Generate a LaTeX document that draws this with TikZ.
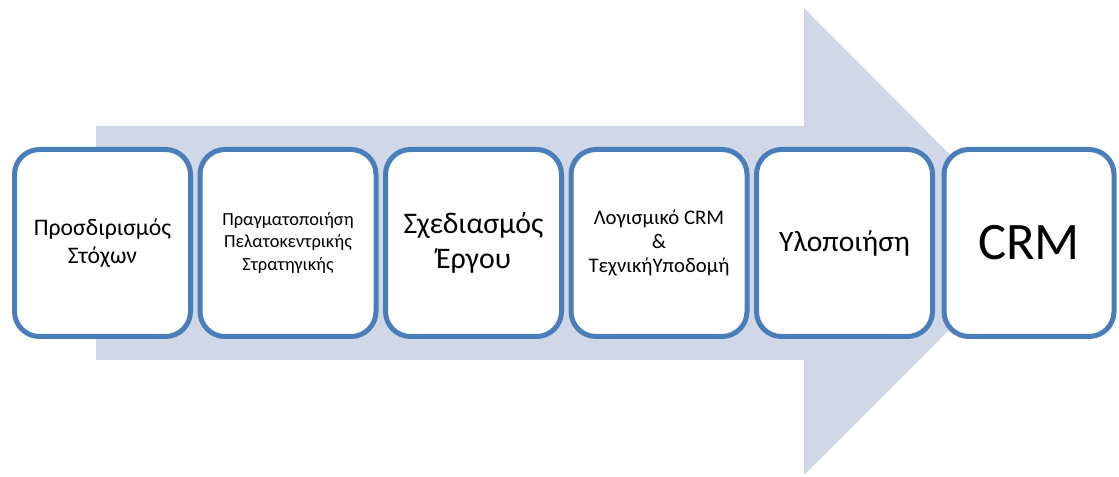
\documentclass[tikz,border=0pt]{standalone}
\usepackage{fontspec}
\setmainfont{Carlito}
\usetikzlibrary{positioning}
\definecolor{arrowfill}{RGB}{208,216,232}
\definecolor{boxline}{RGB}{74,126,187}
\tikzset{
phase/.style= {rectangle, rounded corners=0.5cm, draw=boxline, line width=0.1cm, fill=white, align=center, minimum width=3.52cm, minimum height=3.74cm, outer sep=0pt, inner sep=2pt},
text1/.style= {font=\fontsize{10.5}{12.8}\selectfont},
text1b/.style= {font=\fontsize{11.8}{13.6}\selectfont},
text2/.style= {font=\fontsize{13.5}{16}\selectfont},
text3/.style= {font=\fontsize{17}{19.5}\selectfont},
text4/.style= {font=\fontsize{16.8}{19.5}\selectfont},
text5/.style= {font=\fontsize{30}{34}\selectfont}
}

\begin{document}
\begin{tikzpicture}
\useasboundingbox (0,0) rectangle (22.38,9.54);

% big arrow in the background
\fill[arrowfill] (1.92,2.34) -- (16.08,2.34) -- (16.08,0.04) -- (20.74,4.7) -- (16.08,9.38) -- (16.08,7.02) -- (1.92,7.02) -- cycle;

\node[phase, text2] (b1) at (2.05,4.68) {Προσδιρισμός\\Στόχων};
\node[phase, text1, right=0.19cm of b1] (b2) {Πραγματοποιήση\\Πελατοκεντρικής\\Στρατηγικής};
\node[phase, text3, right=0.19cm of b2] (b3) {Σχεδιασμός\\Έργου};
\node[phase, text1b, right=0.19cm of b3] (b4) {Λογισμικό CRM\\\&\\ΤεχνικήΥποδομή};
\node[phase, text4, right=0.19cm of b4] (b5) {Υλοποιήση};
\node[phase, text5, minimum width=3.4cm, right=0.23cm of b5] (b6) {CRM};
\end{tikzpicture}
\end{document}
